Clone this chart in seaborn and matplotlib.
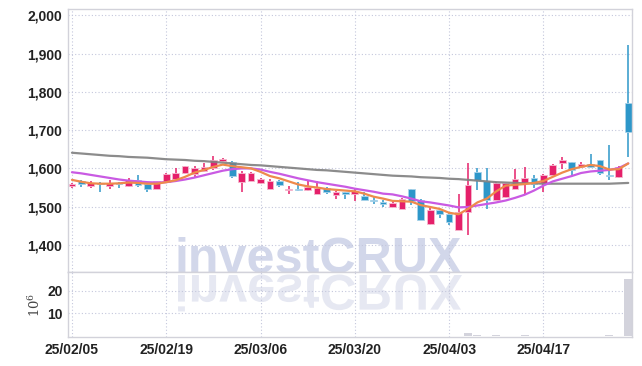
import matplotlib
matplotlib.use('Agg')
import matplotlib.pyplot as plt
import numpy as np
import seaborn as sns
from matplotlib.textpath import TextPath
from matplotlib.patches import PathPatch
from matplotlib.font_manager import FontProperties
from matplotlib.transforms import Affine2D, IdentityTransform

# trading days (yy/mm/dd)
dates = ['25/02/05', '25/02/06', '25/02/07', '25/02/10', '25/02/11', '25/02/12', '25/02/13', '25/02/14',
         '25/02/17', '25/02/18', '25/02/19', '25/02/20', '25/02/21', '25/02/24', '25/02/25', '25/02/26',
         '25/02/27', '25/02/28', '25/03/04', '25/03/05', '25/03/06', '25/03/07', '25/03/10', '25/03/11',
         '25/03/12', '25/03/13', '25/03/14', '25/03/17', '25/03/18', '25/03/19', '25/03/20', '25/03/21',
         '25/03/24', '25/03/25', '25/03/26', '25/03/27', '25/03/28', '25/03/31', '25/04/01', '25/04/02',
         '25/04/03', '25/04/04', '25/04/07', '25/04/08', '25/04/09', '25/04/10', '25/04/11', '25/04/14',
         '25/04/15', '25/04/16', '25/04/17', '25/04/18', '25/04/21', '25/04/22', '25/04/23', '25/04/24',
         '25/04/25', '25/04/28', '25/04/29', '25/04/30']

opens = [1554, 1566, 1553, 1562, 1553, 1562, 1553, 1569, 1558, 1547,
         1564, 1573, 1587, 1586, 1593, 1601, 1620, 1616, 1565, 1568,
         1562, 1546, 1567, 1543, 1547, 1543, 1533, 1548, 1531, 1537,
         1532, 1527, 1517, 1511, 1500, 1494, 1547, 1517, 1455, 1490,
         1482, 1439, 1486, 1590, 1568, 1518, 1524, 1546, 1563, 1575,
         1561, 1583, 1615, 1616, 1604, 1611, 1621, 1581, 1578, 1771]
highs = [1562, 1569, 1568, 1565, 1569, 1565, 1576, 1582, 1562, 1568,
         1589, 1600, 1607, 1606, 1615, 1632, 1627, 1620, 1594, 1591,
         1575, 1572, 1569, 1555, 1565, 1568, 1568, 1552, 1541, 1538,
         1546, 1538, 1524, 1517, 1511, 1522, 1547, 1519, 1496, 1491,
         1486, 1532, 1615, 1601, 1601, 1565, 1563, 1598, 1603, 1582,
         1585, 1611, 1631, 1616, 1616, 1637, 1621, 1661, 1605, 1924]
lows = [1549, 1552, 1549, 1539, 1546, 1550, 1552, 1552, 1538, 1546,
        1562, 1571, 1585, 1578, 1591, 1596, 1617, 1575, 1539, 1566,
        1560, 1545, 1551, 1534, 1541, 1540, 1532, 1534, 1519, 1521,
        1516, 1517, 1508, 1500, 1499, 1493, 1504, 1464, 1453, 1471,
        1451, 1439, 1426, 1543, 1495, 1517, 1523, 1545, 1530, 1549,
        1539, 1582, 1598, 1582, 1601, 1600, 1582, 1569, 1576, 1630]
closes = [1558, 1558, 1561, 1560, 1563, 1560, 1569, 1556, 1546, 1566,
          1585, 1589, 1605, 1600, 1603, 1621, 1625, 1579, 1588, 1589,
          1572, 1566, 1557, 1547, 1543, 1551, 1549, 1539, 1539, 1534,
          1540, 1518, 1515, 1507, 1509, 1521, 1514, 1465, 1490, 1481,
          1459, 1486, 1556, 1569, 1518, 1561, 1561, 1571, 1575, 1560,
          1584, 1608, 1621, 1596, 1611, 1604, 1588, 1579, 1603, 1696]

# volume, millions of shares
volumes = [0.05, 0.04, 0.03, 0.05, 0.04, 0.04, 0.06, 0.05, 0.04, 0.05,
           0.06, 0.05, 0.07, 0.05, 0.04, 0.08, 0.05, 0.06, 0.07, 0.05,
           0.04, 0.05, 0.04, 0.04, 0.03, 0.05, 0.05, 0.04, 0.04, 0.03,
           0.05, 0.04, 0.04, 0.05, 0.04, 0.06, 0.08, 0.09, 0.07, 0.05,
           0.06, 0.10, 1.30, 0.40, 0.10, 0.35, 0.08, 0.09, 0.35, 0.07,
           0.06, 0.08, 0.06, 0.05, 0.05, 0.06, 0.07, 0.35, 0.06, 25.5]

# moving averages
ma_short = [1570, 1565, 1561, 1560, 1560, 1561, 1563, 1562, 1560, 1560,
            1564, 1569, 1578, 1589, 1596, 1604, 1610, 1606, 1603, 1600,
            1591, 1580, 1574, 1566, 1558, 1553, 1550, 1546, 1544, 1542,
            1540, 1534, 1526, 1521, 1515, 1514, 1513, 1504, 1499, 1494,
            1484, 1480, 1494, 1511, 1521, 1540, 1555, 1557, 1559, 1562,
            1567, 1578, 1589, 1598, 1604, 1609, 1606, 1597, 1598, 1613]
ma_mid = [1590, 1587, 1583, 1579, 1575, 1571, 1568, 1566, 1564, 1563,
          1564, 1567, 1571, 1576, 1582, 1588, 1594, 1598, 1600, 1600,
          1597, 1591, 1586, 1580, 1574, 1569, 1564, 1560, 1556, 1552,
          1547, 1543, 1539, 1534, 1532, 1527, 1521, 1514, 1511, 1507,
          1503, 1498, 1499, 1503, 1507, 1511, 1516, 1523, 1531, 1542,
          1555, 1566, 1573, 1580, 1588, 1592, 1594, 1596, 1601, 1613]
ma_long = [1641, 1639, 1637, 1635, 1633, 1632, 1630, 1629, 1628, 1626,
           1624, 1623, 1622, 1620, 1619, 1617, 1615, 1613, 1611, 1609,
           1608, 1606, 1604, 1602, 1600, 1598, 1596, 1595, 1593, 1591,
           1589, 1587, 1585, 1583, 1581, 1580, 1579, 1577, 1576, 1575,
           1573, 1572, 1570, 1568, 1566, 1564, 1563, 1562, 1561, 1561,
           1560, 1560, 1560, 1560, 1560, 1560, 1560, 1560, 1561, 1562]

price_ticks = [1400, 1500, 1600, 1700, 1800, 1900, 2000]
vol_ticks = [10, 20]
watermark = 'investCRUX'

UP = '#e5206a'
DOWN = '#2d97c9'
GRID = '#c4c7dc'
SPINE = '#d2d2da'

sns.set_theme(style='white')
plt.rcParams['font.family'] = ['Liberation Sans', 'DejaVu Sans']
plt.rcParams['mathtext.fontset'] = 'dejavuserif'

fig = plt.figure(figsize=(6.42, 3.66), dpi=100)
ax = fig.add_axes([68 / 642, 94 / 366, 564 / 642, 263 / 366])
axv = fig.add_axes([68 / 642, 29 / 366, 564 / 642, 65 / 366], sharex=ax)

idx = np.arange(len(dates))
o = np.array(opens)
c = np.array(closes)
up = c >= o
cols = np.where(up, UP, DOWN)
edge = np.where(up, '#f6b9cf', '#a9d3ea')

# candles
ax.vlines(idx, lows, highs, colors=cols, lw=1.1, zorder=2)
body_lo = np.minimum(o, c)
body_h = np.maximum(np.abs(c - o), 3)
ax.bar(idx, body_h, bottom=body_lo, width=0.72, color=cols, edgecolor=edge, lw=0.6, zorder=2.5)

# moving averages
sns.lineplot(x=idx, y=ma_long, ax=ax, color='#808080', lw=1.6, alpha=0.9, zorder=3)
sns.lineplot(x=idx, y=ma_mid, ax=ax, color='#c95ae3', lw=1.6, zorder=3)
sns.lineplot(x=idx, y=ma_short, ax=ax, color='#ee8a4c', lw=1.6, zorder=3)

# volume
axv.bar(idx, volumes, width=0.85, color='#d3d3dc', edgecolor='none', zorder=2)

# watermark: real text, plus a mirrored copy below the separator
fp = FontProperties(family='Liberation Sans', weight='bold')
tp = TextPath((0, 0), watermark, size=100, prop=fp)
ext = tp.get_extents()
s = 284 / ext.width
x0 = 178 - ext.x0 * s
base = 366 - 273
ax.text(x0, base, watermark, transform=IdentityTransform(), fontproperties=fp,
        fontsize=100 * s * 0.72, color='#d2d7ea', ha='left', va='baseline',
        zorder=0.3, clip_on=True)
axv.add_patch(PathPatch(tp, transform=Affine2D().scale(s, -s).translate(x0, base - 2),
                        facecolor='#e6e8f2', edgecolor='none', zorder=0.3))

ax.set_xlim(-0.42, 59.4)
ax.set_ylim(1329, 2017)
axv.set_ylim(-0.45, 28.4)

ax.set_yticks(price_ticks)
ax.set_yticklabels([f'{t:,}' for t in price_ticks])
axv.set_yticks(vol_ticks)
axv.set_yticklabels([str(t) for t in vol_ticks])
axv.set_xticks(idx[::10])
axv.set_xticklabels([dates[i] for i in idx[::10]])
ax.tick_params(axis='x', labelbottom=False)

for a in (ax, axv):
    a.set_xlabel('')
    a.grid(True, color=GRID, ls=(0, (1, 2)), lw=0.8)
    a.tick_params(length=0, pad=4, labelsize=10, labelcolor='#222222')
    for lab in a.get_xticklabels() + a.get_yticklabels():
        lab.set_fontweight('bold')
    for sp in a.spines.values():
        sp.set_color(SPINE)
        sp.set_linewidth(1)
axv.tick_params(axis='x', pad=4)

axv.set_ylabel(r'$10^6$', fontsize=9.5, color='#444444', labelpad=3)

fig.savefig('out.png', dpi=100)
